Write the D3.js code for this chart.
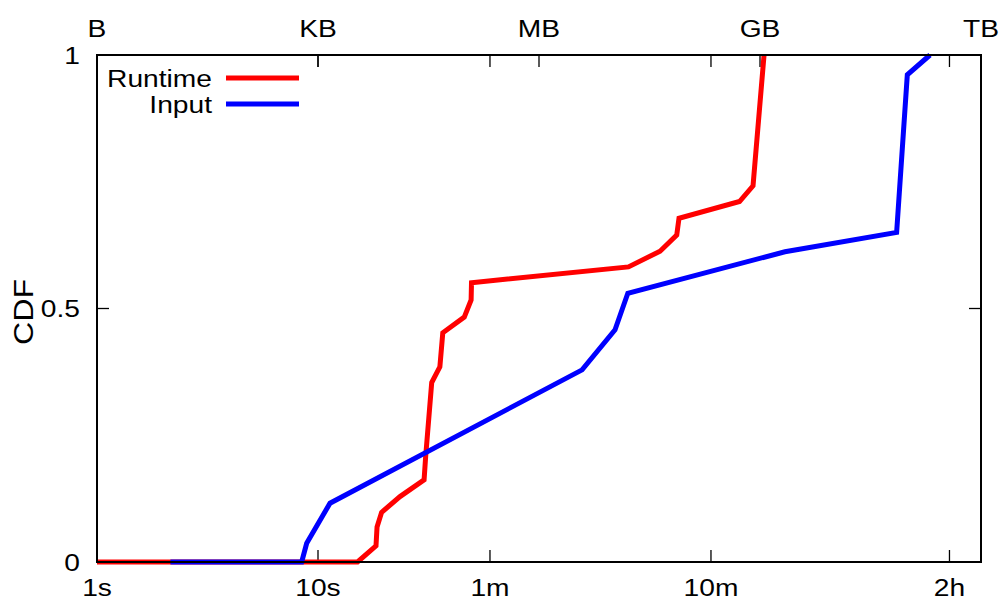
<!DOCTYPE html>
<html>
<head>
<meta charset="utf-8">
<script src="https://cdn.jsdelivr.net/npm/d3@7"></script>
<style>
  body { margin: 0; background: #fff; }
  text { font-family: "Liberation Sans", Arial, Helvetica, sans-serif; fill: #000; }
</style>
</head>
<body>
<svg class="chart" width="1004" height="604"></svg>
<script>
// runtime CDF (seconds)
var runtimeSec = [1, 15.1, 18.3, 18.5, 19.4, 23.5, 30.2, 30.7, 32.7, 35.6, 36.7, 45.9, 49.3, 49.5, 254, 353, 420, 430, 808, 930, 1043];
var runtimeCdf = [0, 0, 0.032, 0.069, 0.098, 0.129, 0.162, 0.208, 0.354, 0.385, 0.452, 0.483, 0.517, 0.551, 0.582, 0.613, 0.645, 0.678, 0.711, 0.742, 1];
// input size CDF (bytes)
var inputBytes = [10, 614, 718, 1492, 4.05e6, 1.138e7, 1.70e7, 2.35e9, 7.8e10, 1.09e11, 2.22e11];
var inputCdf = [0, 0, 0.037, 0.116, 0.379, 0.458, 0.530, 0.612, 0.650, 0.961, 1];

var timeTicks = [1, 10, 60, 600, 7200];
var timeLabels = ['1s', '10s', '1m', '10m', '2h'];
var sizeTicks = [1, Math.pow(2, 10), Math.pow(2, 20), Math.pow(2, 30), Math.pow(2, 40)];
var sizeLabels = ['B', 'KB', 'MB', 'GB', 'TB'];
var cdfTicks = [0, 0.5, 1];
var cdfLabels = ['0', '0.5', '1'];

var pL = 97, pR = 981, pT = 55, pB = 562;
var sx = 1.15; // glyphs are a bit wide in the original

var svg = d3.select('.chart');
var x = d3.scaleLog().base(10).domain([1, 10000]).range([pL, pR]);
var x2 = d3.scaleLog().base(2).domain([1, Math.pow(2, 40)]).range([pL, pR]);
var y = d3.scaleLinear().domain([0, 1]).range([pB, pT]);

function label(px, py, str, size, anchor, rot){
	var g = svg.append('g').attr('transform', 'translate(' + px + ',' + py + ')' + (rot ? ' rotate(' + rot + ')' : '') + ' scale(' + sx + ',1)');
	g.append('text')
		.attr('font-size', size)
		.attr('text-anchor', anchor)
		.text(str);
}

// ticks (all inward)
var tk = svg.append('g').attr('stroke', '#000').attr('stroke-width', 1.3);
timeTicks.slice(1, 5).forEach(function(t){
	tk.append('line').attr('x1', x(t)).attr('x2', x(t)).attr('y1', pB).attr('y2', pB - 12);
	tk.append('line').attr('x1', x(t)).attr('x2', x(t)).attr('y1', pT).attr('y2', pT + 12);
});
sizeTicks.slice(1, 4).forEach(function(b){
	tk.append('line').attr('x1', x2(b)).attr('x2', x2(b)).attr('y1', pT).attr('y2', pT + 12);
});
tk.append('line').attr('x1', pL).attr('x2', pL + 12).attr('y1', y(0.5)).attr('y2', y(0.5));
tk.append('line').attr('x1', pR).attr('x2', pR - 12).attr('y1', y(0.5)).attr('y2', y(0.5));

// tick labels
timeTicks.forEach(function(t, i){ label(x(t), 596, timeLabels[i], 24.5, 'middle'); });
sizeTicks.forEach(function(b, i){ label(x2(b), 37, sizeLabels[i], 24.5, 'middle'); });
cdfTicks.forEach(function(c, i){ label(80, y(c) + 8.5, cdfLabels[i], 24.5, 'end'); });

label(33, 312, 'CDF', 28, 'middle', -90);

// lines
var lineT = d3.line().x(function(d){ return x(d[0]); }).y(function(d){ return y(d[1]); });
var lineB = d3.line().x(function(d){ return x2(d[0]); }).y(function(d){ return y(d[1]); });

svg.append('path')
	.attr('d', lineT(d3.zip(runtimeSec, runtimeCdf)))
	.attr('fill', 'none').attr('stroke', '#ff0000').attr('stroke-width', 5).attr('stroke-linejoin', 'miter');
svg.append('path')
	.attr('d', lineB(d3.zip(inputBytes, inputCdf)))
	.attr('fill', 'none').attr('stroke', '#0000ff').attr('stroke-width', 5).attr('stroke-linejoin', 'miter');

// frame
svg.append('rect')
	.attr('x', pL).attr('y', pT).attr('width', pR - pL).attr('height', pB - pT)
	.attr('fill', 'none').attr('stroke', '#000').attr('stroke-width', 2);

// legend
var legend = [['Runtime', '#ff0000', 78], ['Input', '#0000ff', 104]];
legend.forEach(function(l){
	label(212, l[2] + 8.5, l[0], 24.5, 'end');
	svg.append('line').attr('x1', 226).attr('x2', 299).attr('y1', l[2]).attr('y2', l[2])
		.attr('stroke', l[1]).attr('stroke-width', 5);
});
</script>
</body>
</html>
